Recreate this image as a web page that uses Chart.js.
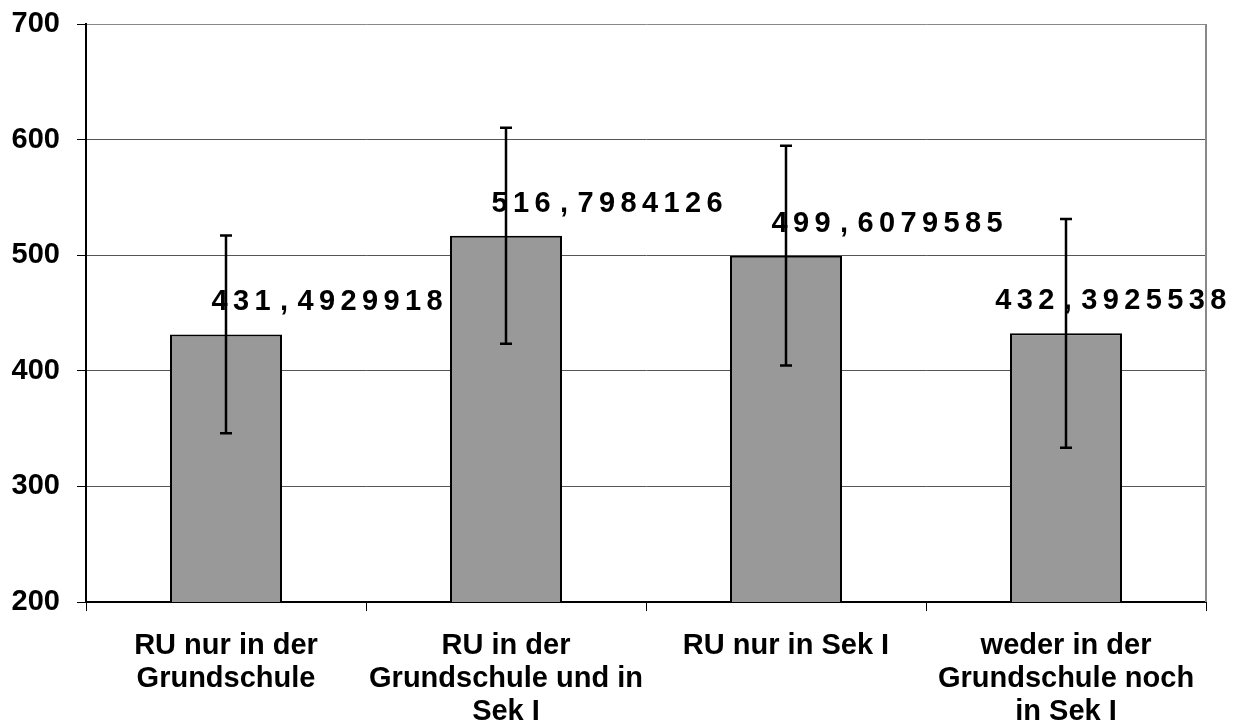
<!DOCTYPE html>
<html lang="de">
<head>
    <meta charset="UTF-8">
    <title>RU Balkendiagramm</title>
    <script src="https://cdn.jsdelivr.net/npm/chart.js"></script>
    <style>
        html, body { margin: 0; padding: 0; background: #fff; }
    </style>
</head>
<body>
    <canvas id="chart" width="1237" height="727"></canvas>
    <script>
        // data
        const categories = [
            ["RU nur in der", "Grundschule"],
            ["RU in der", "Grundschule und in", "Sek I"],
            ["RU nur in Sek I"],
            ["weder in der", "Grundschule noch", "in Sek I"]
        ];
        const means = [431.4929918, 516.7984126, 499.6079585, 432.3925538];
        const errors = [85.5, 93.5, 95, 99];
        const valueLabels = ["431,4929918", "516,7984126", "499,6079585", "432,3925538"];
        const yTicks = [200, 300, 400, 500, 600, 700];

        const FONT = "'Liberation Sans', Arial, sans-serif";

        // error bars drawn through the y scale
        const errorBars = {
            id: "errorBars",
            afterDatasetsDraw(chart) {
                const ctx = chart.ctx;
                const y = chart.scales.y;
                const meta = chart.getDatasetMeta(0);
                ctx.save();
                ctx.strokeStyle = "#000";
                ctx.lineWidth = 2.5;
                meta.data.forEach((bar, i) => {
                    const top = y.getPixelForValue(means[i] + errors[i]);
                    const bot = y.getPixelForValue(means[i] - errors[i]);
                    ctx.beginPath();
                    ctx.moveTo(bar.x, top);
                    ctx.lineTo(bar.x, bot);
                    ctx.moveTo(bar.x - 6, top);
                    ctx.lineTo(bar.x + 6, top);
                    ctx.moveTo(bar.x - 6, bot);
                    ctx.lineTo(bar.x + 6, bot);
                    ctx.stroke();
                });
                ctx.restore();
            }
        };

        // spaced value labels, like the original
        const valueText = {
            id: "valueText",
            afterDatasetsDraw(chart) {
                const ctx = chart.ctx;
                const meta = chart.getDatasetMeta(0);
                const pitch = 21.5;
                ctx.save();
                ctx.font = "bold 29px " + FONT;
                ctx.fillStyle = "#000";
                ctx.textAlign = "center";
                ctx.textBaseline = "middle";
                meta.data.forEach((bar, i) => {
                    const txt = valueLabels[i];
                    const w = txt.length * pitch;
                    let left = bar.x + 101 - w / 2;
                    if (left + w > chart.width - 8) left = chart.width - 8 - w;
                    const cy = bar.y - 32;
                    for (let k = 0; k < txt.length; k++) {
                        ctx.fillText(txt[k], left + pitch * k + pitch / 2, cy);
                    }
                });
                ctx.restore();
            }
        };

        new Chart(document.getElementById("chart"), {
            type: "bar",
            data: {
                labels: categories,
                datasets: [{
                    data: means,
                    backgroundColor: "#999999",
                    borderColor: "#000",
                    borderWidth: 2,
                    borderSkipped: false,
                    categoryPercentage: 1,
                    barPercentage: 0.4
                }]
            },
            options: {
                responsive: false,
                animation: false,
                layout: { padding: { top: 24, right: 31, left: 0, bottom: 0 } },
                plugins: {
                    legend: { display: false },
                    tooltip: { enabled: false }
                },
                scales: {
                    x: {
                        grid: {
                            drawOnChartArea: false,
                            drawTicks: true,
                            tickLength: 9,
                            tickColor: "#000",
                            offset: true
                        },
                        border: { color: "#000", width: 2 },
                        ticks: {
                            color: "#000",
                            font: { family: FONT, size: 29, weight: "bold", lineHeight: 1.13 },
                            padding: 19,
                            maxRotation: 0,
                            autoSkip: false
                        },
                        afterFit(scale) { scale.height = 125; }
                    },
                    y: {
                        min: yTicks[0],
                        max: yTicks[yTicks.length - 1],
                        afterBuildTicks(scale) {
                            scale.ticks = yTicks.map(v => ({ value: v }));
                        },
                        grid: {
                            color: (c) => c.tick && c.tick.value === 700 ? "#888" : "#555",
                            tickLength: 9,
                            tickColor: "#000"
                        },
                        border: { color: "#000", width: 2 },
                        ticks: {
                            color: "#000",
                            font: { family: FONT, size: 29, weight: "bold" },
                            padding: 17
                        },
                        afterFit(scale) {
                            scale.width = 86;
                            scale.paddingTop = 0;
                            scale.paddingBottom = 0;
                        }
                    }
                }
            },
            plugins: [errorBars, valueText, {
                id: "rightBorder",
                afterDraw(chart) {
                    const a = chart.chartArea;
                    const ctx = chart.ctx;
                    ctx.save();
                    ctx.strokeStyle = "#888";
                    ctx.lineWidth = 2;
                    ctx.beginPath();
                    ctx.moveTo(a.right, a.top);
                    ctx.lineTo(a.right, a.bottom);
                    ctx.stroke();
                    ctx.restore();
                }
            }]
        });
    </script>
</body>
</html>
